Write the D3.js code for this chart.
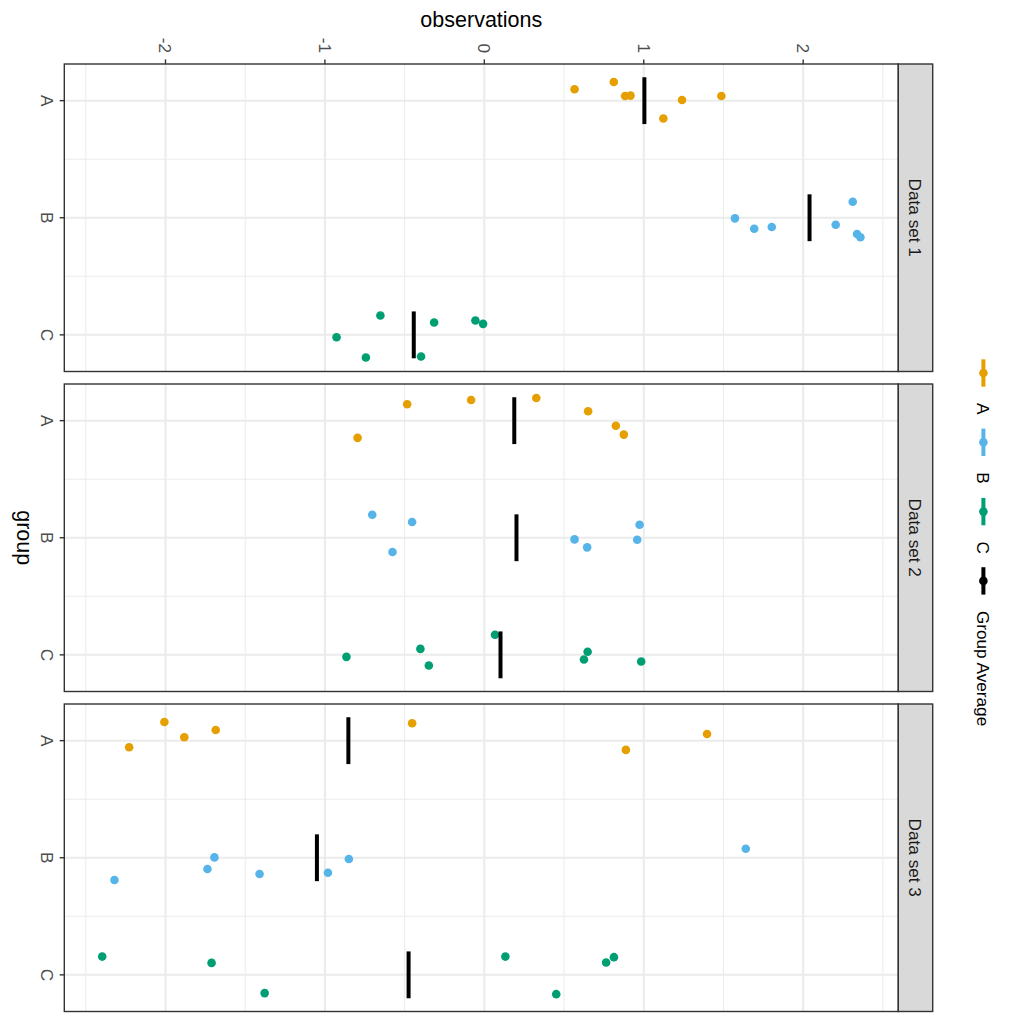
<!DOCTYPE html>
<html>
<head>
<meta charset="utf-8">
<script src="https://cdnjs.cloudflare.com/ajax/libs/d3/7.8.5/d3.min.js"></script>
<style>
body { margin: 0; background: #fff; }
text { font-family: "Liberation Sans", Arial, Helvetica, sans-serif; }
</style>
</head>
<body>
<svg id="chart" width="1024" height="1024"></svg>
<script>
// ggplot style jitter chart, drawn turned a quarter clockwise

var groups = ["A", "B", "C"];
var dataSets = ["Data set 1", "Data set 2", "Data set 3"];
var obsTicks = [-2, -1, 0, 1, 2];
var obsMinor = [-2.5, -1.5, -0.5, 0.5, 1.5, 2.5];
var groupMinor = [1.5, 2.5];
var legendLabels = ["A", "B", "C", "Group Average"];
var colors = ["#E69F00", "#56B4E9", "#009E73", "#000000"];

// observations, one row per group (A, B, C)
var set1Values = [
  [0.566, 0.812, 0.883, 0.917, 1.123, 1.240, 1.487],
  [1.572, 1.693, 1.803, 2.204, 2.311, 2.338, 2.359],
  [-0.927, -0.743, -0.652, -0.397, -0.315, -0.056, -0.008]
];
var set2Values = [
  [-0.795, -0.484, -0.083, 0.326, 0.651, 0.825, 0.875],
  [-0.703, -0.453, -0.576, 0.566, 0.645, 0.959, 0.974],
  [-0.865, -0.401, -0.348, 0.067, 0.625, 0.648, 0.984]
];
var set3Values = [
  [-2.228, -2.007, -1.882, -1.685, -0.453, 0.888, 1.397],
  [-2.320, -1.737, -1.693, -1.410, -0.981, -0.850, 1.640],
  [-2.397, -1.711, -1.378, 0.132, 0.451, 0.764, 0.813]
];

// jitter of each point away from its group, in group units
var set1Jitter = [
  [-0.097, -0.159, -0.040, -0.043, 0.153, -0.006, -0.040],
  [0.005, 0.094, 0.079, 0.060, -0.136, 0.139, 0.167],
  [0.020, 0.194, -0.165, 0.185, -0.105, -0.122, -0.094]
];
var set2Jitter = [
  [0.147, -0.140, -0.176, -0.194, -0.080, 0.043, 0.119],
  [-0.196, -0.134, 0.122, 0.014, 0.082, 0.017, -0.111],
  [0.017, -0.051, 0.091, -0.171, 0.040, -0.026, 0.057]
];
var set3Jitter = [
  [0.056, -0.159, -0.029, -0.091, -0.148, 0.079, -0.057],
  [0.190, 0.096, -0.003, 0.139, 0.128, 0.011, -0.077],
  [-0.156, -0.102, 0.156, -0.156, 0.165, -0.105, -0.151]
];

var allValues = [set1Values, set2Values, set3Values];
var allJitter = [set1Jitter, set2Jitter, set3Jitter];

var svg = d3.select("#chart");

var left = 64.3, right = 898.3;
var panelTop = 64, panelH = 307.5, panelGap = 12.5;
var stripW = 34.4;
var halfBar = 0.2;

// 5% expansion like ggplot
var flat = d3.merge(allValues.map(function(s) { return d3.merge(s); }));
var ext = d3.extent(flat);
var pad = (ext[1] - ext[0]) * 0.05;
var x = d3.scaleLinear().domain([ext[0] - pad, ext[1] + pad]).range([left, right]);

var gPad = 0.313;

var tickColor = "#333333";
var labelColor = "#4D4D4D";

dataSets.forEach(function(name, k) {
  var top = panelTop + k * (panelH + panelGap);
  var y = d3.scaleLinear().domain([1 - gPad, 3 + gPad]).range([top, top + panelH]);
  var panel = svg.append("g");

  panel.append("rect")
    .attr("x", left).attr("y", top)
    .attr("width", right - left).attr("height", panelH)
    .attr("fill", "#fff");

  // minor grid
  panel.selectAll(".vminor").data(obsMinor).enter().append("line")
    .attr("x1", function(d) { return x(d); }).attr("x2", function(d) { return x(d); })
    .attr("y1", top).attr("y2", top + panelH)
    .attr("stroke", "#EBEBEB").attr("stroke-width", 1);
  panel.selectAll(".hminor").data(groupMinor).enter().append("line")
    .attr("x1", left).attr("x2", right)
    .attr("y1", function(d) { return y(d); }).attr("y2", function(d) { return y(d); })
    .attr("stroke", "#EBEBEB").attr("stroke-width", 1);

  // major grid
  panel.selectAll(".vmajor").data(obsTicks).enter().append("line")
    .attr("x1", function(d) { return x(d); }).attr("x2", function(d) { return x(d); })
    .attr("y1", top).attr("y2", top + panelH)
    .attr("stroke", "#EBEBEB").attr("stroke-width", 2);
  panel.selectAll(".hmajor").data(groups).enter().append("line")
    .attr("x1", left).attr("x2", right)
    .attr("y1", function(d, i) { return y(i + 1); }).attr("y2", function(d, i) { return y(i + 1); })
    .attr("stroke", "#EBEBEB").attr("stroke-width", 2);

  // points
  var pts = [];
  groups.forEach(function(g, gi) {
    allValues[k][gi].forEach(function(v, j) {
      pts.push({ value: v, pos: gi + 1 + allJitter[k][gi][j], color: colors[gi] });
    });
  });
  panel.selectAll(".pt").data(pts).enter().append("circle")
    .attr("cx", function(d) { return x(d.value); })
    .attr("cy", function(d) { return y(d.pos); })
    .attr("r", 4.3)
    .attr("fill", function(d) { return d.color; });

  // group averages
  var means = groups.map(function(g, gi) { return d3.mean(allValues[k][gi]); });
  panel.selectAll(".mean").data(means).enter().append("line")
    .attr("x1", function(d) { return x(d); }).attr("x2", function(d) { return x(d); })
    .attr("y1", function(d, i) { return y(i + 1 - halfBar); })
    .attr("y2", function(d, i) { return y(i + 1 + halfBar); })
    .attr("stroke", "#000").attr("stroke-width", 4);

  panel.append("rect")
    .attr("x", left).attr("y", top)
    .attr("width", right - left).attr("height", panelH)
    .attr("fill", "none").attr("stroke", tickColor).attr("stroke-width", 1.4);

  // strip
  panel.append("rect")
    .attr("x", right).attr("y", top)
    .attr("width", stripW).attr("height", panelH)
    .attr("fill", "#D9D9D9").attr("stroke", tickColor).attr("stroke-width", 1.4);
  panel.append("text")
    .attr("transform", "translate(" + (right + stripW / 2) + "," + (top + panelH / 2) + ") rotate(90)")
    .attr("text-anchor", "middle")
    .attr("dy", "0.35em")
    .style("font-size", "17.2px")
    .attr("fill", "#1A1A1A")
    .text(name);

  // group axis on the left
  panel.selectAll(".gtick").data(groups).enter().append("line")
    .attr("x1", left - 4.6).attr("x2", left)
    .attr("y1", function(d, i) { return y(i + 1); }).attr("y2", function(d, i) { return y(i + 1); })
    .attr("stroke", tickColor).attr("stroke-width", 1.4);
  panel.selectAll(".glabel").data(groups).enter().append("text")
    .attr("transform", function(d, i) { return "translate(40.7," + y(i + 1) + ") rotate(90)"; })
    .attr("text-anchor", "middle")
    .style("font-size", "17.2px")
    .attr("fill", labelColor)
    .text(function(d) { return d; });
});

// observations axis along the top
svg.selectAll(".otick").data(obsTicks).enter().append("line")
  .attr("x1", function(d) { return x(d); }).attr("x2", function(d) { return x(d); })
  .attr("y1", panelTop - 4.6).attr("y2", panelTop)
  .attr("stroke", tickColor).attr("stroke-width", 1.4);
svg.selectAll(".olabel").data(obsTicks).enter().append("text")
  .attr("transform", function(d) { return "translate(" + x(d) + ",53) rotate(90)"; })
  .attr("text-anchor", "end")
  .attr("dy", "0.35em")
  .style("font-size", "17.2px")
  .attr("fill", labelColor)
  .text(function(d) { return d; });

svg.append("text")
  .attr("x", (left + right) / 2).attr("y", 26.7)
  .attr("text-anchor", "middle")
  .style("font-size", "21.5px")
  .text("observations");

var lastBottom = panelTop + 3 * panelH + 2 * panelGap;
svg.append("text")
  .attr("transform", "translate(17," + (panelTop + lastBottom) / 2 + ") rotate(90)")
  .attr("text-anchor", "middle")
  .style("font-size", "21.5px")
  .text("group");

// legend
var legend = svg.selectAll(".legend").data(legendLabels).enter().append("g")
  .attr("class", "legend")
  .attr("transform", function(d, i) { return "translate(983.4," + (373 + i * 69.3) + ")"; });

legend.append("line")
  .attr("x1", 0).attr("x2", 0).attr("y1", -13.7).attr("y2", 13.7)
  .attr("stroke", function(d, i) { return colors[i]; })
  .attr("stroke-width", 4);
legend.append("circle")
  .attr("r", 4.3)
  .attr("fill", function(d, i) { return colors[i]; });
legend.append("text")
  .attr("transform", "translate(0,30) rotate(90)")
  .attr("text-anchor", "start")
  .attr("dy", "0.35em")
  .style("font-size", "17.2px")
  .attr("fill", "#000")
  .text(function(d) { return d; });
</script>
</body>
</html>
